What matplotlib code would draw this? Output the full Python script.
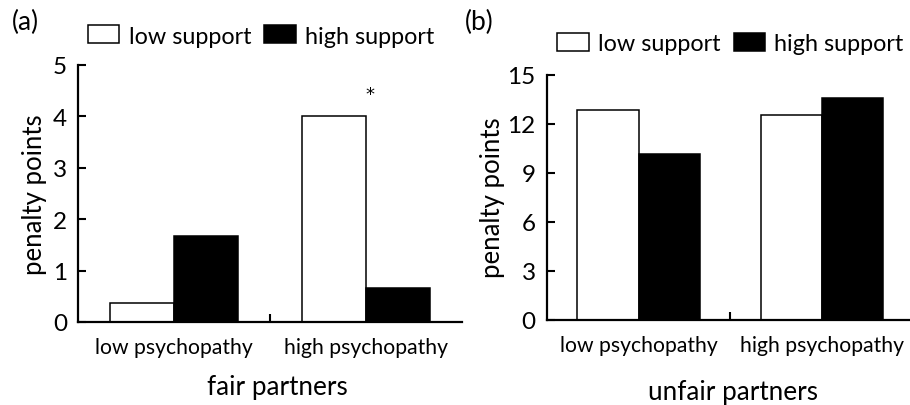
import matplotlib
matplotlib.use("Agg")
import matplotlib.pyplot as plt
from matplotlib.patches import Patch
import numpy as np

plt.rcParams['font.family'] = ['Lato', 'DejaVu Sans']

categories = ["low psychopathy", "high psychopathy"]
series = ["low support", "high support"]
fair_low_support = [0.37, 4.0]
fair_high_support = [1.68, 0.655]
unfair_low_support = [12.86, 12.52]
unfair_high_support = [10.13, 13.58]
fair_yticks = [0, 1, 2, 3, 4, 5]
unfair_yticks = [0, 3, 6, 9, 12, 15]

W, H = 910, 406
fig = plt.figure(figsize=(W / 100, H / 100), dpi=100)

def px_axes(x0, x1, y0, y1):
    return fig.add_axes([x0 / W, 1 - y1 / H, (x1 - x0) / W, (y1 - y0) / H])

axA = px_axes(78, 462, 66, 323)
axB = px_axes(546.7, 914, 75.7, 321)

def style(ax, low, high, yticks):
    x = np.arange(len(categories))
    bw = 1 / 3
    ax.bar(x - bw / 2, low, bw, facecolor='white', edgecolor='black', linewidth=1.1, zorder=2)
    ax.bar(x + bw / 2, high, bw, facecolor='black', edgecolor='black', linewidth=1.1, zorder=2)
    ax.set_xlim(-0.5, len(categories) - 0.5)
    ax.set_ylim(yticks[0], yticks[-1])
    ax.set_yticks(yticks)
    ax.set_xticks(x)
    ax.set_xticklabels(categories, fontsize=15.2)
    ax.set_xticks([0.5], minor=True)
    ax.tick_params(axis='x', which='major', length=0, pad=11)
    ax.tick_params(axis='x', which='minor', direction='in', length=6, width=1.5)
    ax.tick_params(axis='y', direction='in', length=6, width=1.5, labelsize=17.5, pad=8)
    for s in ['top', 'right']:
        ax.spines[s].set_visible(False)
    for s in ['left', 'bottom']:
        ax.spines[s].set_linewidth(1.6)
    ax.set_facecolor('none')

style(axA, fair_low_support, fair_high_support, fair_yticks)
style(axB, unfair_low_support, unfair_high_support, unfair_yticks)

# significance star
axA.text(1.02, fair_low_support[1] + 0.43, "*", ha='center', va='center', fontsize=13,
         family='DejaVu Sans')

handles = [Patch(facecolor='white', edgecolor='black', linewidth=1.1),
           Patch(facecolor='black', edgecolor='black', linewidth=1.1)]
for cx, cy in [(261, 37), (730.5, 44.5)]:
    fig.legend(handles, series, loc='center', bbox_to_anchor=(cx / W, 1 - cy / H),
               ncol=2, frameon=False, fontsize=16.8, handlelength=1.35, handleheight=0.8,
               handletextpad=0.4, columnspacing=0.55, borderpad=0.2)

fig.text(25 / W, 1 - 22 / H, "(a)", ha='center', va='center', fontsize=19)
fig.text(479 / W, 1 - 22 / H, "(b)", ha='center', va='center', fontsize=19)
fig.text(277 / W, 1 - 388 / H, "fair partners", ha='center', va='center', fontsize=18.8)
fig.text(733 / W, 1 - 393 / H, "unfair partners", ha='center', va='center', fontsize=18.8)
fig.text(35 / W, 1 - 195 / H, "penalty points", ha='center', va='center', rotation=90, fontsize=18.5)
fig.text(493 / W, 1 - 198 / H, "penalty points", ha='center', va='center', rotation=90, fontsize=18.5)

fig.savefig("out.png", dpi=100, facecolor='white')
